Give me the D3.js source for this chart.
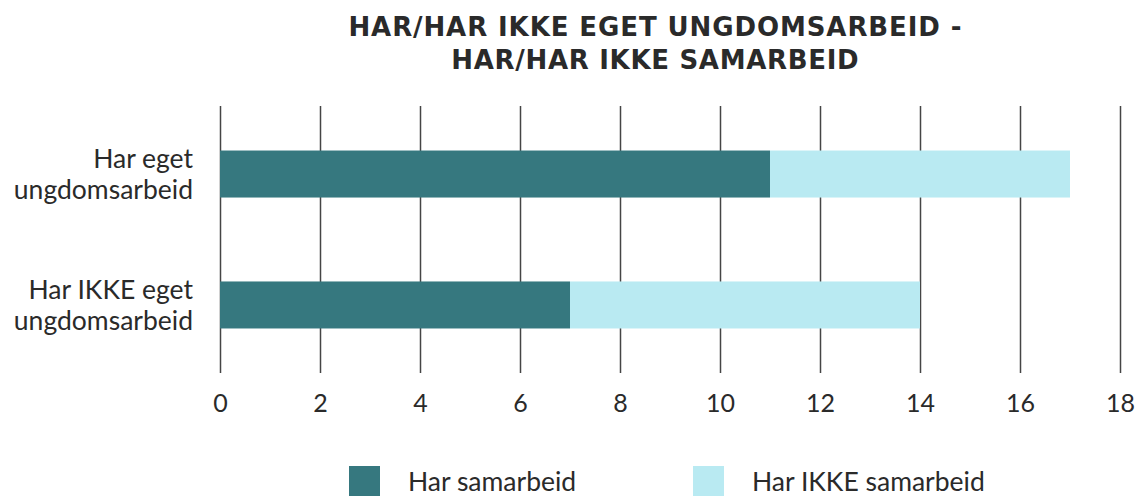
<!DOCTYPE html>
<html><head><meta charset="utf-8">
<script src="https://cdn.jsdelivr.net/npm/d3@7"></script>
<style>
html,body{margin:0;padding:0;background:#fff;}
svg text{font-family:Lato,"Open Sans",sans-serif;fill:#2a2a2a;}
</style></head>
<body>
<svg id="chart" width="1137" height="496"></svg>
<script>
const titleLines = ["HAR/HAR IKKE EGET UNGDOMSARBEID -", "HAR/HAR IKKE SAMARBEID"];
const categories = [["Har eget", "ungdomsarbeid"], ["Har IKKE eget", "ungdomsarbeid"]];
const seriesNames = ["Har samarbeid", "Har IKKE samarbeid"];
const harSamarbeid = [11, 7];
const harIkkeSamarbeid = [6, 7];
const tickValues = [0, 2, 4, 6, 8, 10, 12, 14, 16, 18];
const colors = ["#36787f", "#b9eaf2"];

const svg = d3.select("#chart");
const x = d3.scaleLinear().domain([0, 18]).range([220, 1120]);
const y = d3.scaleBand().domain([0, 1]).range([106, 373]).paddingInner(0.641).paddingOuter(0.34);

// title
const titleY = [36, 69];
const titleW = [614, 408];
titleLines.forEach((t, i) => {
  const tt = svg.append("text").attr("x", 655).attr("y", titleY[i]).attr("text-anchor", "middle")
    .style("font-family", "'DejaVu Sans', sans-serif")
    .style("font-weight", 700).style("font-size", "26px").text(t);
  const w = tt.node().getComputedTextLength();
  const n = t.length;
  tt.style("letter-spacing", ((titleW[i] - w) / n) + "px")
    .attr("x", 655 + (titleW[i] - w) / n / 2);
});

// grid / axis
const axis = d3.axisBottom(x).tickValues(tickValues).tickSize(373 - 106).tickFormat(d3.format("d"));
const g = svg.append("g").attr("transform", "translate(0,106)").call(axis);
g.select(".domain").remove();
g.selectAll(".tick line").attr("stroke", "#454545").attr("stroke-width", 1.5);
g.selectAll(".tick text").attr("y", 373 - 106 + 39).attr("dy", 0).style("font-size", "25px").attr("fill", "#2a2a2a");

// stacked data
const data = categories.map((c, i) => ({i, a: harSamarbeid[i], b: harIkkeSamarbeid[i]}));
const stack = d3.stack().keys(["a", "b"])(data);
svg.append("g").selectAll("g").data(stack).join("g").attr("fill", (d, k) => colors[k])
  .selectAll("rect").data(d => d).join("rect")
  .attr("x", d => x(d[0])).attr("width", d => x(d[1]) - x(d[0]))
  .attr("y", d => y(d.data.i)).attr("height", y.bandwidth());

// category labels
categories.forEach((lines, i) => {
  const cy = y(i) + y.bandwidth() / 2;
  lines.forEach((t, j) => {
    svg.append("text").attr("x", 193).attr("y", cy - 6 + j * 31).attr("text-anchor", "end")
      .style("font-size", "26.5px").text(t);
  });
});

// legend
const legX = [349, 693];
seriesNames.forEach((n, k) => {
  svg.append("rect").attr("x", legX[k]).attr("y", 466).attr("width", 31).attr("height", 31).attr("fill", colors[k]);
  svg.append("text").attr("x", legX[k] + 59).attr("y", 491).style("font-size", "26.5px").text(n);
});
</script>
</body></html>
